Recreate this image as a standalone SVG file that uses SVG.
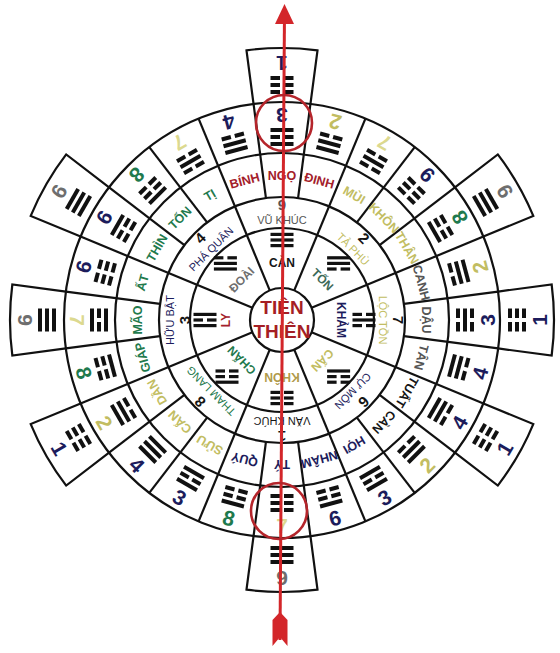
<svg xmlns="http://www.w3.org/2000/svg" xmlns:xlink="http://www.w3.org/1999/xlink" width="560" height="653" viewBox="0 0 560 653">
<style>
.ln{stroke:#111;stroke-width:2.2;fill:none}
.tab{stroke:#111;stroke-width:2.2;fill:#fff}
text{font-family:"Liberation Sans",Arial,sans-serif;text-anchor:middle;dominant-baseline:central}
.n{font-size:21px;font-weight:bold}
.m{font-size:12.5px;font-weight:bold}
.s{font-size:11px}
.sn{font-size:15px;font-weight:bold}
.t{font-size:12px;font-weight:bold}
.c{font-size:19px;font-weight:bold;fill:#a51e24}
.nv{fill:#1c1c5c}.gr{fill:#1f7a4d}.yl{fill:#c2bd62}.fy{fill:#dcd98f}.gy{fill:#6e6e6e}.dg{fill:#555}.dr{fill:#a3202a}.bk{fill:#151515}.tl{fill:#3d6a58}.ol{fill:#b09a4a}
</style>
<defs>
<g id="L1"><rect x="-11.5" y="-2" width="23" height="4" fill="#111"/></g>
<g id="L0"><rect x="-11.5" y="-2" width="9.5" height="4" fill="#111"/><rect x="2" y="-2" width="9.5" height="4" fill="#111"/></g>
<g id="Tqian"><use href="#L1" y="7"/><use href="#L1"/><use href="#L1" y="-7"/></g>
<g id="Tdui"><use href="#L1" y="7"/><use href="#L1"/><use href="#L0" y="-7"/></g>
<g id="Tli"><use href="#L1" y="7"/><use href="#L0"/><use href="#L1" y="-7"/></g>
<g id="Tzhen"><use href="#L1" y="7"/><use href="#L0"/><use href="#L0" y="-7"/></g>
<g id="Txun"><use href="#L0" y="7"/><use href="#L1"/><use href="#L1" y="-7"/></g>
<g id="Tkan"><use href="#L0" y="7"/><use href="#L1"/><use href="#L0" y="-7"/></g>
<g id="Tgen"><use href="#L0" y="7"/><use href="#L0"/><use href="#L1" y="-7"/></g>
<g id="Tkun"><use href="#L0" y="7"/><use href="#L0"/><use href="#L0" y="-7"/></g>
<path id="tabshape" class="tab" d="M253.54,103.87 L246.5,50.33 A272,272 0 0 1 317.5,50.33 L310.46,103.87"/>
<line id="major" class="ln" x1="282" y1="288" x2="282" y2="102"/>
<line id="minor" class="ln" x1="282" y1="197" x2="282" y2="102"/>
</defs>

<g id="tabs">
<use href="#tabshape" transform="rotate(0 282 320)"/>
<use href="#tabshape" transform="rotate(60 282 320)"/>
<use href="#tabshape" transform="rotate(90 282 320)"/>
<use href="#tabshape" transform="rotate(120 282 320)"/>
<use href="#tabshape" transform="rotate(180 282 320)"/>
<use href="#tabshape" transform="rotate(240 282 320)"/>
<use href="#tabshape" transform="rotate(270 282 320)"/>
<use href="#tabshape" transform="rotate(300 282 320)"/>
</g>

<g id="rings">
<circle cx="282" cy="320" r="218" fill="#fff" stroke="#111" stroke-width="2.2"/>
<circle class="ln" cx="282" cy="320" r="167"/>
<circle class="ln" cx="282" cy="320" r="123"/>
<circle class="ln" cx="282" cy="320" r="92"/>
</g>

<g id="connectors">
<use href="#major" transform="rotate(22.5 282 320)"/>
<use href="#major" transform="rotate(67.5 282 320)"/>
<use href="#major" transform="rotate(112.5 282 320)"/>
<use href="#major" transform="rotate(157.5 282 320)"/>
<use href="#major" transform="rotate(202.5 282 320)"/>
<use href="#major" transform="rotate(247.5 282 320)"/>
<use href="#major" transform="rotate(292.5 282 320)"/>
<use href="#major" transform="rotate(337.5 282 320)"/>
<use href="#minor" transform="rotate(7.5 282 320)"/>
<use href="#minor" transform="rotate(37.5 282 320)"/>
<use href="#minor" transform="rotate(52.5 282 320)"/>
<use href="#minor" transform="rotate(82.5 282 320)"/>
<use href="#minor" transform="rotate(97.5 282 320)"/>
<use href="#minor" transform="rotate(127.5 282 320)"/>
<use href="#minor" transform="rotate(142.5 282 320)"/>
<use href="#minor" transform="rotate(172.5 282 320)"/>
<use href="#minor" transform="rotate(187.5 282 320)"/>
<use href="#minor" transform="rotate(217.5 282 320)"/>
<use href="#minor" transform="rotate(232.5 282 320)"/>
<use href="#minor" transform="rotate(262.5 282 320)"/>
<use href="#minor" transform="rotate(277.5 282 320)"/>
<use href="#minor" transform="rotate(307.5 282 320)"/>
<use href="#minor" transform="rotate(322.5 282 320)"/>
<use href="#minor" transform="rotate(352.5 282 320)"/>
</g>

<g id="center">
<circle cx="282" cy="320" r="32" fill="#fff" stroke="#111" stroke-width="2.2"/>
<text class="c" x="282" y="307">TIÊN</text>
<text class="c" x="282" y="331">THIÊN</text>
</g>

<g id="m-ngo" transform="rotate(0 282 320)"><text class="m dr" x="282" y="176">NGỌ</text><use href="#Tli" x="282" y="137"/><text class="n nv" transform="translate(282 115) rotate(180)">3</text><use href="#Tkun" x="282" y="85"/><text class="n nv" transform="translate(282 63) rotate(180)">1</text></g>
<g id="m-dinh" transform="rotate(15 282 320)"><text class="m dr" x="282" y="176">ĐINH</text><use href="#Tdui" x="282" y="137"/><text class="n yl" transform="translate(282 115) rotate(180)">2</text></g>
<g id="m-mui" transform="rotate(30 282 320)"><text class="m yl" x="282" y="176">MÙI</text><use href="#Tkan" x="282" y="137"/><text class="n fy" transform="translate(282 115) rotate(180)">7</text></g>
<g id="m-khon" transform="rotate(45 282 320)"><text class="m yl" x="282" y="176">KHÔN</text><use href="#Tkun" x="282" y="137"/><text class="n nv" transform="translate(282 115) rotate(180)">9</text></g>
<g id="m-than" transform="rotate(60 282 320)"><text class="m yl" x="282" y="176">THÂN</text><use href="#Tzhen" x="282" y="137"/><text class="n gr" transform="translate(282 115) rotate(180)">8</text><use href="#Tqian" x="282" y="85"/><text class="n gy" transform="translate(282 63) rotate(180)">9</text></g>
<g id="m-canh" transform="rotate(75 282 320)"><text class="m dg" x="282" y="176">CANH</text><use href="#Txun" x="282" y="137"/><text class="n yl" transform="translate(282 115) rotate(180)">2</text></g>
<g id="m-dau" transform="rotate(90 282 320)"><text class="m dg" x="282" y="176">DẬU</text><use href="#Tkan" x="282" y="137"/><text class="n nv" transform="translate(282 115) rotate(180)">3</text><use href="#Tkun" x="282" y="85"/><text class="n nv" transform="translate(282 63) rotate(180)">1</text></g>
<g id="m-tan" transform="rotate(105 282 320)"><text class="m dg" x="282" y="176">TÂN</text><use href="#Tdui" x="282" y="137"/><text class="n nv" transform="translate(282 115) rotate(180)">4</text></g>
<g id="m-tuat" transform="rotate(120 282 320)"><text class="m bk" x="282" y="176">TUẤT</text><use href="#Tdui" x="282" y="137"/><text class="n nv" transform="translate(282 115) rotate(180)">4</text><use href="#Tkun" x="282" y="85"/><text class="n nv" transform="translate(282 63) rotate(180)">1</text></g>
<g id="m-can" transform="rotate(135 282 320)"><text class="m bk" x="282" y="176">CÀN</text><use href="#Txun" x="282" y="137"/><text class="n yl" transform="translate(282 115) rotate(180)">2</text></g>
<g id="m-hoi" transform="rotate(150 282 320)"><text class="m nv" x="282" y="176">HỢI</text><use href="#Tli" x="282" y="137"/><text class="n nv" transform="translate(282 115) rotate(180)">3</text></g>
<g id="m-nham" transform="rotate(165 282 320)"><text class="m nv" x="282" y="176">NHÂM</text><use href="#Tgen" x="282" y="137"/><text class="n nv" transform="translate(282 115) rotate(180)">6</text></g>
<g id="m-ty" transform="rotate(180 282 320)"><text class="m nv" x="282" y="176">TÝ</text><use href="#Tkun" x="282" y="137"/><text class="n fy" transform="translate(282 115) rotate(180)">7</text><use href="#Tqian" x="282" y="85"/><text class="n gy" transform="translate(282 63) rotate(180)">9</text></g>
<g id="m-quy" transform="rotate(195 282 320)"><text class="m nv" x="282" y="176">QUÝ</text><use href="#Tgen" x="282" y="137"/><text class="n gr" transform="translate(282 115) rotate(180)">8</text></g>
<g id="m-suu" transform="rotate(210 282 320)"><text class="m yl" x="282" y="176">SỬU</text><use href="#Tli" x="282" y="137"/><text class="n nv" transform="translate(282 115) rotate(180)">3</text></g>
<g id="m-cann" transform="rotate(225 282 320)"><text class="m yl" x="282" y="176">CẤN</text><use href="#Tqian" x="282" y="137"/><text class="n nv" transform="translate(282 115) rotate(180)">4</text></g>
<g id="m-dan" transform="rotate(240 282 320)"><text class="m yl" x="282" y="176">DẦN</text><use href="#Txun" x="282" y="137"/><text class="n yl" transform="translate(282 115) rotate(180)">2</text><use href="#Tkun" x="282" y="85"/><text class="n nv" transform="translate(282 63) rotate(180)">1</text></g>
<g id="m-giap" transform="rotate(255 282 320)"><text class="m gr" x="282" y="176">GIÁP</text><use href="#Tzhen" x="282" y="137"/><text class="n gr" transform="translate(282 115) rotate(180)">8</text></g>
<g id="m-mao" transform="rotate(270 282 320)"><text class="m gr" x="282" y="176">MÃO</text><use href="#Tli" x="282" y="137"/><text class="n fy" transform="translate(282 115) rotate(180)">7</text><use href="#Tqian" x="282" y="85"/><text class="n gy" transform="translate(282 63) rotate(180)">9</text></g>
<g id="m-at" transform="rotate(285 282 320)"><text class="m gr" x="282" y="176">ẤT</text><use href="#Tkun" x="282" y="137"/><text class="n nv" transform="translate(282 115) rotate(180)">9</text></g>
<g id="m-thin" transform="rotate(300 282 320)"><text class="m gr" x="282" y="176">THÌN</text><use href="#Tgen" x="282" y="137"/><text class="n nv" transform="translate(282 115) rotate(180)">9</text><use href="#Tqian" x="282" y="85"/><text class="n gy" transform="translate(282 63) rotate(180)">9</text></g>
<g id="m-ton" transform="rotate(315 282 320)"><text class="m gr" x="282" y="176">TỐN</text><use href="#Tzhen" x="282" y="137"/><text class="n gr" transform="translate(282 115) rotate(180)">8</text></g>
<g id="m-ti" transform="rotate(330 282 320)"><text class="m gr" x="282" y="176">TỊ</text><use href="#Tkan" x="282" y="137"/><text class="n fy" transform="translate(282 115) rotate(180)">7</text></g>
<g id="m-binh" transform="rotate(345 282 320)"><text class="m dr" x="282" y="176">BÍNH</text><use href="#Tdui" x="282" y="137"/><text class="n nv" transform="translate(282 115) rotate(180)">4</text></g>

<g id="s-vukhuc" transform="rotate(0 282 320)"><text class="sn dg" x="282" y="204">9</text><text class="s dg" x="282" y="219.5">VŨ KHÚC</text></g>
<g id="s-taphu" transform="rotate(45 282 320)"><text class="sn bk" x="282" y="204">2</text><text class="s yl" x="282" y="219.5">TẢ PHÙ</text></g>
<g id="s-locton" transform="rotate(90 282 320)"><text class="sn bk" x="282" y="204">7</text><text class="s yl" x="282" y="219.5">LỘC TỒN</text></g>
<g id="s-cumon" transform="rotate(135 282 320)"><text class="sn bk" x="282" y="204">6</text><text class="s nv" x="282" y="219.5">CỰ MÔN</text></g>
<g id="s-vankhuc" transform="rotate(180 282 320)"><text class="sn bk" x="282" y="204">1</text><text class="s bk" x="282" y="219.5">VĂN KHÚC</text></g>
<g id="s-thamlang" transform="rotate(225 282 320)"><text class="sn bk" x="282" y="204">8</text><text class="s gr" x="282" y="219.5">THAM LANG</text></g>
<g id="s-huubat" transform="rotate(270 282 320)"><text class="sn bk" x="282" y="222">3</text><text class="s nv" x="282" y="208">HỮU BẬT</text></g>
<g id="s-phaquan" transform="rotate(315 282 320)"><text class="sn bk" x="282" y="204">4</text><text class="s nv" x="282" y="219.5">PHÁ QUÂN</text></g>

<g id="q-can"><use href="#Tqian" transform="translate(282 240) scale(1 0.8)"/><text class="t bk" x="282" y="263">CÀN</text></g>
<g id="q-ton"><use href="#Txun" transform="translate(338.6 263.4) scale(1 0.8)"/><text class="t tl" transform="rotate(45 282 320)" x="282" y="263">TỐN</text></g>
<g id="q-kham"><use href="#Tkan" transform="translate(364 320) scale(1 0.8)"/><text class="t nv" transform="rotate(90 282 320)" x="282" y="261">KHẢM</text></g>
<g id="q-cann"><use href="#Tgen" transform="translate(338.6 376.6) scale(1 0.8)"/><text class="t yl" transform="rotate(135 282 320)" x="282" y="263">CẤN</text></g>
<g id="q-khon"><use href="#Tkun" transform="translate(282 398) scale(1 0.8)"/><text class="t ol" transform="rotate(180 282 320)" x="282" y="263">KHÔN</text></g>
<g id="q-chan"><use href="#Tzhen" transform="translate(227 376.6) scale(1 0.8)"/><text class="t gr" transform="rotate(225 282 320)" x="282" y="263">CHẤN</text></g>
<g id="q-ly"><use href="#Tli" transform="translate(205 320) scale(1 0.8)"/><text class="t dr" transform="rotate(270 282 320)" x="282" y="264">LY</text></g>
<g id="q-doai"><use href="#Tdui" transform="translate(225.4 263.4) scale(1 0.8)"/><text class="t gy" transform="rotate(315 282 320)" x="282" y="263">ĐOÀI</text></g>

<g id="pointer">
<line x1="284.5" y1="12" x2="280" y2="640" stroke="#d3262a" stroke-width="3"/>
<polygon points="284.5,4 294,24 275,24" fill="#d3262a"/>
<polygon points="280,612 287.5,620 287.5,646 280,637 272.5,646 272.5,620" fill="#d3262a"/>
<circle cx="284" cy="123" r="28" fill="none" stroke="#b5252b" stroke-width="2.6"/>
<circle cx="279" cy="511" r="28" fill="none" stroke="#b5252b" stroke-width="2.6"/>
</g>
</svg>
